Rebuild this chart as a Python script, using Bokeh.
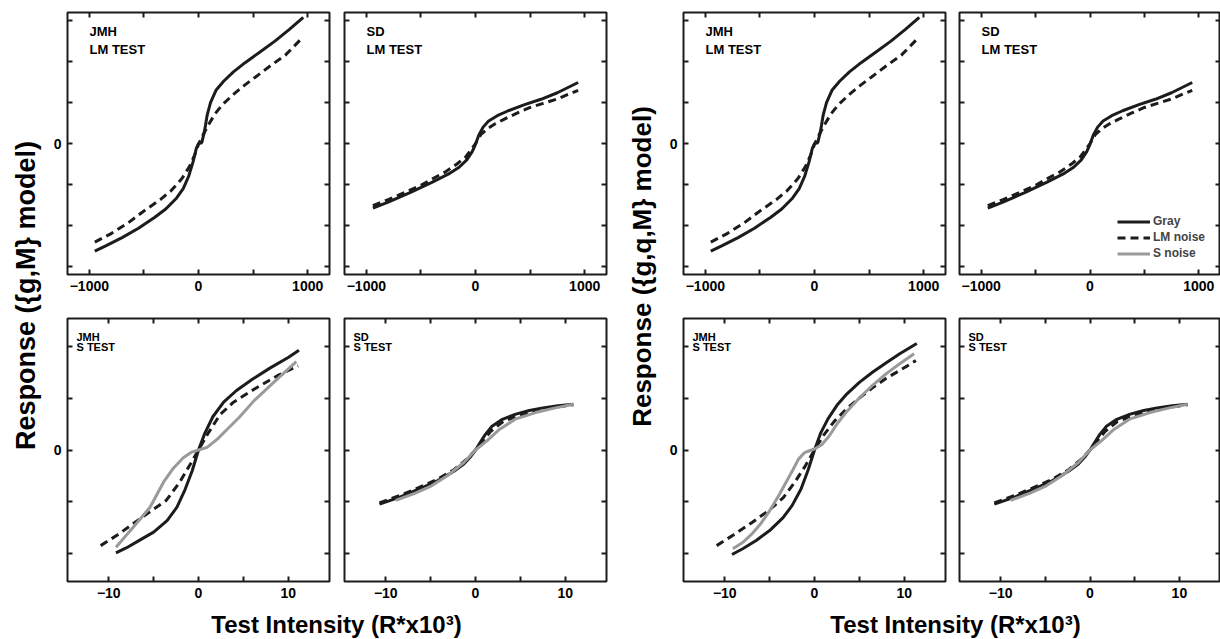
from bokeh.plotting import figure
from bokeh.models import Range1d, FixedTicker, LinearAxis, Label, Legend, LegendItem
from bokeh.layouts import row, column
from bokeh.embed import file_html
from bokeh.resources import INLINE
import math

FONT = "Liberation Sans"
BLACK = "#1c1c1c"
GREY = "#9a9a9a"

# ---------------- data ----------------
series_names = ["Gray", "LM noise", "S noise"]
subjects = ["JMH", "SD"]
tests = ["LM TEST", "S TEST"]
ylabel_gm = "Response ({g,M} model)"
ylabel_gqm = "Response ({g,q,M} model)"
xlabel = "Test Intensity (R*x10³)"

# labelled ticks / unlabelled ticks
lm_xticks = [-1000, 0, 1000]
lm_xminor = [-500, 500]
lm_xlabels = {-1000: "−1000"}
lm_yticks = [0]
lm_yminor = [-3, -2, -1, 1, 2, 3]
s_xticks = [-10, 0, 10]
s_xminor = [-5, 5]
s_xlabels = {-10: "−10"}
s_yticks = [0]
s_yminor = [-2, -1, 1, 2]

# JMH, LM test (both models look alike)
jmh_lm_gray_x = [-950, -850, -700, -550, -400, -300, -200, -140, -90, -50, -20, 0, 30, 55, 80, 110, 160, 230, 320, 430, 560, 700, 830, 960]
jmh_lm_gray_y = [-2.63, -2.5, -2.3, -2.07, -1.8, -1.6, -1.33, -1.1, -0.8, -0.45, -0.12, 0.0, 0.02, 0.3, 0.7, 1.0, 1.3, 1.52, 1.75, 1.98, 2.23, 2.5, 2.78, 3.08]
jmh_lm_lmn_x = [-950, -800, -650, -500, -350, -250, -150, -80, -30, 0, 40, 90, 150, 220, 320, 420, 520, 650, 800, 950]
jmh_lm_lmn_y = [-2.41, -2.2, -1.95, -1.65, -1.37, -1.15, -0.85, -0.55, -0.25, -0.02, 0.2, 0.45, 0.72, 0.95, 1.2, 1.42, 1.62, 1.88, 2.17, 2.58]

# SD, LM test
sd_lm_gray_x = [-940, -800, -600, -400, -250, -150, -80, -30, 0, 30, 70, 120, 200, 300, 450, 600, 750, 940]
sd_lm_gray_y = [-1.58, -1.43, -1.2, -0.95, -0.75, -0.58, -0.4, -0.2, -0.02, 0.2, 0.4, 0.55, 0.68, 0.8, 0.95, 1.08, 1.24, 1.49]
sd_lm_lmn_x = [-940, -800, -650, -500, -400, -280, -170, -90, -40, 0, 50, 110, 180, 260, 380, 500, 620, 740, 940]
sd_lm_lmn_y = [-1.52, -1.37, -1.2, -1.02, -0.87, -0.7, -0.5, -0.33, -0.15, 0.0, 0.22, 0.36, 0.48, 0.59, 0.74, 0.88, 0.98, 1.08, 1.3]

# S noise is not visible in the LM-test panels (kept only for the legend)
lm_sn_x = [float("nan")]
lm_sn_y = [float("nan")]

# JMH, S test, {g,M}
jmh_s_gm_gray_x = [-9.2, -8, -6.5, -5, -3.5, -2.4, -1.5, -0.7, 0, 0.7, 1.6, 2.8, 4.2, 6, 8, 10, 11.2]
jmh_s_gm_gray_y = [-1.98, -1.88, -1.73, -1.58, -1.36, -1.1, -0.76, -0.4, 0.0, 0.32, 0.64, 0.92, 1.14, 1.36, 1.58, 1.78, 1.92]
jmh_s_gm_lmn_x = [-10.9, -9, -7.3, -5.5, -3.6, -2.1, -0.9, 0, 1.1, 2.4, 3.9, 6.2, 8.8, 11.1]
jmh_s_gm_lmn_y = [-1.84, -1.63, -1.42, -1.2, -0.97, -0.62, -0.27, 0.0, 0.33, 0.68, 0.92, 1.17, 1.43, 1.62]
jmh_s_gm_sn_x = [-9.2, -7.3, -5.4, -3.9, -2.8, -1.7, -0.75, 0, 0.95, 2.1, 3.2, 4.5, 6.2, 8.8, 10.9]
jmh_s_gm_sn_y = [-1.87, -1.49, -1.1, -0.62, -0.35, -0.15, -0.04, 0.0, 0.05, 0.21, 0.4, 0.62, 0.95, 1.37, 1.7]

# JMH, S test, {g,q,M}
jmh_s_gqm_gray_x = [-9.2, -8, -6.5, -5, -3.5, -2.5, -1.5, -0.7, 0, 0.7, 1.5, 2.5, 3.5, 5, 6.5, 8, 9.5, 11.4]
jmh_s_gqm_gray_y = [-2.01, -1.9, -1.74, -1.55, -1.3, -1.07, -0.75, -0.38, 0.0, 0.33, 0.6, 0.86, 1.06, 1.3, 1.5, 1.68, 1.85, 2.05]
jmh_s_gqm_lmn_x = [-10.9, -9, -7, -5, -3.5, -2.2, -1, 0, 1, 2.2, 3.5, 5, 6.5, 8, 9.5, 11.3]
jmh_s_gqm_lmn_y = [-1.84, -1.63, -1.4, -1.15, -0.92, -0.62, -0.3, 0.0, 0.28, 0.55, 0.78, 1.0, 1.2, 1.38, 1.53, 1.72]
jmh_s_gqm_sn_x = [-9.1, -8, -7, -6, -5, -4, -3.2, -2.4, -1.8, -1.1, -0.5, 0, 0.8, 1.6, 2.5, 3.5, 5, 6.5, 8, 9.5, 11.1]
jmh_s_gqm_sn_y = [-1.9, -1.78, -1.62, -1.42, -1.17, -0.88, -0.63, -0.38, -0.18, -0.05, -0.01, 0.02, 0.1, 0.26, 0.5, 0.72, 1.0, 1.25, 1.47, 1.66, 1.85]

# SD, S test (both models look alike)
sd_s_gray_x = [-10.7, -8.5, -6.4, -4.2, -2.4, -1.3, -0.5, 0, 0.5, 1.1, 1.8, 3.0, 4.5, 6.0, 7.5, 9.2, 10.9]
sd_s_gray_y = [-1.04, -0.91, -0.76, -0.59, -0.41, -0.27, -0.12, 0.0, 0.14, 0.3, 0.45, 0.59, 0.69, 0.76, 0.81, 0.85, 0.88]
sd_s_lmn_x = [-10.7, -8.5, -6.4, -4.2, -2.4, -1.0, 0, 0.8, 1.7, 3.1, 4.9, 7.4, 10.9]
sd_s_lmn_y = [-1.02, -0.88, -0.73, -0.56, -0.38, -0.18, 0.0, 0.17, 0.36, 0.55, 0.67, 0.79, 0.87]
sd_s_sn_x = [-8.9, -6.7, -4.9, -3.1, -1.3, 0, 1.3, 2.7, 4.5, 6.7, 8.9, 10.9]
sd_s_sn_y = [-0.97, -0.83, -0.69, -0.49, -0.24, 0.0, 0.18, 0.4, 0.6, 0.72, 0.81, 0.88]


# ---------------- helpers ----------------
def style_axis(ax):
    ax.axis_line_color = None
    for k in ("major", "minor"):
        setattr(ax, k + "_tick_in", 5)
        setattr(ax, k + "_tick_out", 0)
        setattr(ax, k + "_tick_line_width", 2)
        setattr(ax, k + "_tick_line_color", BLACK)
    ax.major_label_text_font = FONT
    ax.major_label_text_font_style = "bold"
    ax.major_label_text_color = "black"
    ax.major_label_text_font_size = "14px"
    ax.major_label_standoff = 6


def make_axis(ticks, minor, overrides=None):
    if overrides:
        ax = LinearAxis(ticker=FixedTicker(ticks=ticks, minor_ticks=minor),
                        major_label_overrides=overrides)
    else:
        ax = LinearAxis(ticker=FixedTicker(ticks=ticks, minor_ticks=minor))
    style_axis(ax)
    return ax


def make_panel(width, height, bl, br, bt, bb, xr, yr, xt, xm, xlab, yt, ym,
               ylabels_on, title_lines, tx, tys, tsize):
    p = figure(width=width, height=height, x_range=Range1d(*xr), y_range=Range1d(*yr),
               output_backend="svg", toolbar_location=None,
               min_border_left=bl, min_border_right=br, min_border_top=bt, min_border_bottom=bb,
               x_axis_type=None, y_axis_type=None)
    p.outline_line_color = BLACK
    p.outline_line_width = 2
    p.background_fill_color = "white"
    p.border_fill_color = "white"

    p.add_layout(make_axis(xt, xm, xlab), "below")
    p.add_layout(make_axis([], xt + xm), "above")
    if ylabels_on:
        p.add_layout(make_axis(yt, ym), "left")
    else:
        p.add_layout(make_axis([], yt + ym), "left")
    p.add_layout(make_axis([], yt + ym), "right")

    for txt, ty in zip(title_lines, tys):
        p.add_layout(Label(x=tx, y=ty, x_units="screen", y_units="screen", text=txt,
                           text_font=FONT, text_font_style="bold", text_font_size=tsize,
                           text_color="black", text_align="left", text_baseline="alphabetic"))
    return p


def add_curves(p, gx, gy, lx, ly, sx, sy):
    r1 = p.line(gx, gy, line_color=BLACK, line_width=3)
    r2 = p.line(lx, ly, line_color=BLACK, line_width=3, line_dash="8 5")
    r3 = p.line(sx, sy, line_color=GREY, line_width=3)
    return r1, r2, r3


def text_strip(width, height, text, sx, sy, angle, size, baseline):
    p = figure(width=width, height=height, x_range=Range1d(0, 1), y_range=Range1d(0, 1),
               output_backend="svg", toolbar_location=None, x_axis_type=None, y_axis_type=None,
               min_border=0)
    p.outline_line_color = None
    p.border_fill_color = "white"
    p.add_layout(Label(x=sx, y=sy, x_units="screen", y_units="screen", text=text, angle=angle,
                       text_align="center", text_baseline=baseline, text_font=FONT,
                       text_font_style="bold", text_font_size=size, text_color="black"))
    return p


LM_XR = (-1200, 1200)
LM_YR = (-3.2, 3.2)
S_XR = (-14.6, 14.6)
S_YR = (-2.53, 2.53)
TOP_H, BOT_H = 304, 302


def group(left_w, left_bl, left_br, right_w, right_br, s_gray, s_lmn, s_sn, with_legend):
    tl = make_panel(left_w, TOP_H, left_bl, left_br, 12, 30, LM_XR, LM_YR,
                    lm_xticks, lm_xminor, lm_xlabels, lm_yticks, lm_yminor, True,
                    [subjects[0], tests[0]], 22, [243, 225], "13px")
    add_curves(tl, jmh_lm_gray_x, jmh_lm_gray_y, jmh_lm_lmn_x, jmh_lm_lmn_y, lm_sn_x, lm_sn_y)
    tr = make_panel(right_w, TOP_H, 7, right_br, 12, 30, LM_XR, LM_YR,
                    lm_xticks, lm_xminor, lm_xlabels, lm_yticks, lm_yminor, False,
                    [subjects[1], tests[0]], 22, [243, 225], "13px")
    r1, r2, r3 = add_curves(tr, sd_lm_gray_x, sd_lm_gray_y, sd_lm_lmn_x, sd_lm_lmn_y,
                            lm_sn_x, lm_sn_y)
    if with_legend:
        leg = Legend(items=[LegendItem(label=series_names[0], renderers=[r1]),
                            LegendItem(label=series_names[1], renderers=[r2]),
                            LegendItem(label=series_names[2], renderers=[r3])],
                     location=(158, 14), glyph_width=33, glyph_height=13, label_height=13,
                     label_standoff=3, spacing=2, padding=0, margin=0,
                     border_line_color=None, background_fill_alpha=0,
                     label_text_font=FONT, label_text_font_style="bold",
                     label_text_font_size="12px")
        tr.add_layout(leg)
    bl = make_panel(left_w, BOT_H, left_bl, left_br, 14, 25, S_XR, S_YR,
                    s_xticks, s_xminor, s_xlabels, s_yticks, s_yminor, True,
                    [subjects[0], tests[1]], 9, [245, 235], "11px")
    add_curves(bl, *s_gray, *s_lmn, *s_sn)
    br = make_panel(right_w, BOT_H, 7, right_br, 14, 25, S_XR, S_YR,
                    s_xticks, s_xminor, s_xlabels, s_yticks, s_yminor, False,
                    [subjects[1], tests[1]], 9, [245, 235], "11px")
    add_curves(br, sd_s_gray_x, sd_s_gray_y, sd_s_lmn_x, sd_s_lmn_y, sd_s_sn_x, sd_s_sn_y)
    return tl, tr, bl, br


tl1, tr1, bl1, br1 = group(291, 21, 8, 276, 7,
                           (jmh_s_gm_gray_x, jmh_s_gm_gray_y),
                           (jmh_s_gm_lmn_x, jmh_s_gm_lmn_y),
                           (jmh_s_gm_sn_x, jmh_s_gm_sn_y), False)
tl2, tr2, bl2, br2 = group(293, 24, 7, 268, 0,
                           (jmh_s_gqm_gray_x, jmh_s_gqm_gray_y),
                           (jmh_s_gqm_lmn_x, jmh_s_gqm_lmn_y),
                           (jmh_s_gqm_sn_x, jmh_s_gqm_sn_y), True)

ylab1 = text_strip(46, 639, ylabel_gm, 25, 344, math.pi / 2, "27px", "middle")
ylab2 = text_strip(46, 639, ylabel_gqm, 28, 373, math.pi / 2, "26px", "middle")
xlab1 = text_strip(567, 33, xlabel, 290, 15, 0, "24px", "alphabetic")
xlab2 = text_strip(561, 33, xlabel, 296, 15, 0, "24px", "alphabetic")

layout = row(ylab1,
             column(row(tl1, tr1), row(bl1, br1), xlab1),
             ylab2,
             column(row(tl2, tr2), row(bl2, br2), xlab2))

open("out.html", "w").write(file_html(layout, INLINE))
